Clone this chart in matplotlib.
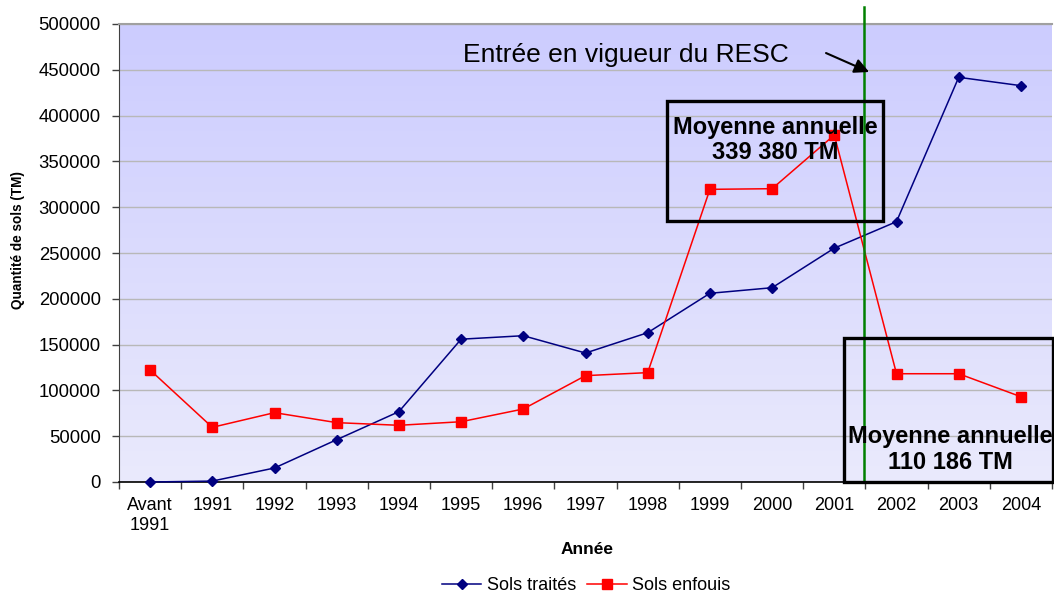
import matplotlib
matplotlib.use("Agg")
import matplotlib.pyplot as plt
import numpy as np
from matplotlib.patches import Rectangle

plt.rcParams['font.family'] = ['Liberation Sans', 'DejaVu Sans']

categories = ["Avant\n1991", "1991", "1992", "1993", "1994", "1995", "1996", "1997",
              "1998", "1999", "2000", "2001", "2002", "2003", "2004"]
sols_traites = [0, 1000, 15300, 46200, 76800, 155900, 159700, 140800,
                163000, 206000, 212100, 255300, 284200, 441800, 432700]
sols_enfouis = [122300, 59700, 75700, 64800, 61900, 65800, 79700, 116100,
                119400, 319500, 320200, 378800, 118200, 118200, 93100]
yticks = list(range(0, 500001, 50000))
resc_position = 11.48  # between 2001 and 2002

W, H = 1054, 595
fig = plt.figure(figsize=(W / 100, H / 100), dpi=100)
ax = fig.add_axes([119 / W, (H - 482) / H, 933 / W, 458 / H])

x = np.arange(len(categories))

# gradient background (darker at top)
grad = np.linspace(0, 1, 256).reshape(-1, 1)
top = np.array([204, 204, 255]) / 255
bot = np.array([234, 234, 252]) / 255
img = top + (bot - top) * grad[:, :, None] * np.ones((1, 2, 1))
ax.imshow(img, extent=[-0.5, len(categories) - 0.5, 0, 500000], aspect='auto',
          zorder=0, origin='upper')
ax.set_xlim(-0.5, len(categories) - 0.5)
ax.set_ylim(0, 500000)

ax.set_yticks(yticks)
ax.set_yticklabels([str(v) for v in yticks])
ax.yaxis.grid(True, color='#B8B8B8', lw=1)
ax.set_axisbelow(True)
for gl in ax.get_ygridlines():
    gl.set_zorder(0.5)

ax.set_xticks(np.arange(-0.5, len(categories), 1.0))
ax.set_xticklabels([])
ax.set_xticks(x, minor=True)
ax.set_xticklabels(categories, minor=True)
ax.tick_params(axis='x', which='major', direction='out', length=5, width=1, color='#404040')
ax.tick_params(axis='x', which='minor', length=0, pad=11, labelsize=13)
ax.tick_params(axis='y', direction='out', length=5, width=1, color='#404040', pad=8, labelsize=13.3)

ax.spines['right'].set_visible(False)
ax.spines['top'].set_color('#A0A0A0')
ax.spines['top'].set_linewidth(1.5)
ax.spines['left'].set_color('#404040')
ax.spines['bottom'].set_color('black')
ax.spines['bottom'].set_linewidth(1.2)

l1, = ax.plot(x, sols_traites, color='#000080', lw=1.1, marker='D', ms=5.5,
              label='Sols traités', zorder=3, clip_on=False)
l2, = ax.plot(x, sols_enfouis, color='#FF0000', lw=1.1, marker='s', ms=6.5,
              label='Sols enfouis', zorder=3, clip_on=False)

# RESC line
ax.plot([resc_position, resc_position], [0, 518600], color='#008000', lw=1.8,
        clip_on=False, zorder=4)

# Boxes
ax.add_patch(Rectangle((8.305, 285300), 11.788 - 8.305, 416300 - 285300,
                       fill=False, ec='black', lw=2.4, zorder=5, clip_on=False))
ax.add_patch(Rectangle((11.151, -300), 14.52 - 11.151, 156900 + 300,
                       fill=False, ec='black', lw=2.4, zorder=5, clip_on=False))

ax.text(10.05, 373000, "Moyenne annuelle\n339 380 TM", ha='center', va='center',
        fontsize=17, fontweight='bold', linespacing=1.12, zorder=6)
ax.text(12.86, 35500, "Moyenne annuelle\n110 186 TM", ha='center', va='center',
        fontsize=17, fontweight='bold', linespacing=1.12, zorder=6, clip_on=False)

ax.text(7.65, 466200, "Entrée en vigueur du RESC", ha='center', va='center',
        fontsize=19, zorder=6)
ax.annotate("", xy=(11.56, 447600), xytext=(10.867, 468300),
            arrowprops=dict(arrowstyle='-|>', color='black', lw=1.5,
                            mutation_scale=22, shrinkA=0, shrinkB=0),
            zorder=6)

fig.text(18 / W, 1 - 240 / H, "Quantité de sols (TM)", rotation=90, ha='center',
         va='center', fontsize=9.8, fontweight='bold')
fig.text(587 / W, 1 - 550 / H, "Année", ha='center', va='center', fontsize=12.5,
         fontweight='bold')

fig.legend(handles=[l1, l2], loc='center', bbox_to_anchor=(586 / W, 1 - 586 / H),
           ncol=2, frameon=False, fontsize=13, handlelength=2.2,
           columnspacing=0.6, handletextpad=0.3, borderpad=0)

fig.savefig("out.png", dpi=100)
